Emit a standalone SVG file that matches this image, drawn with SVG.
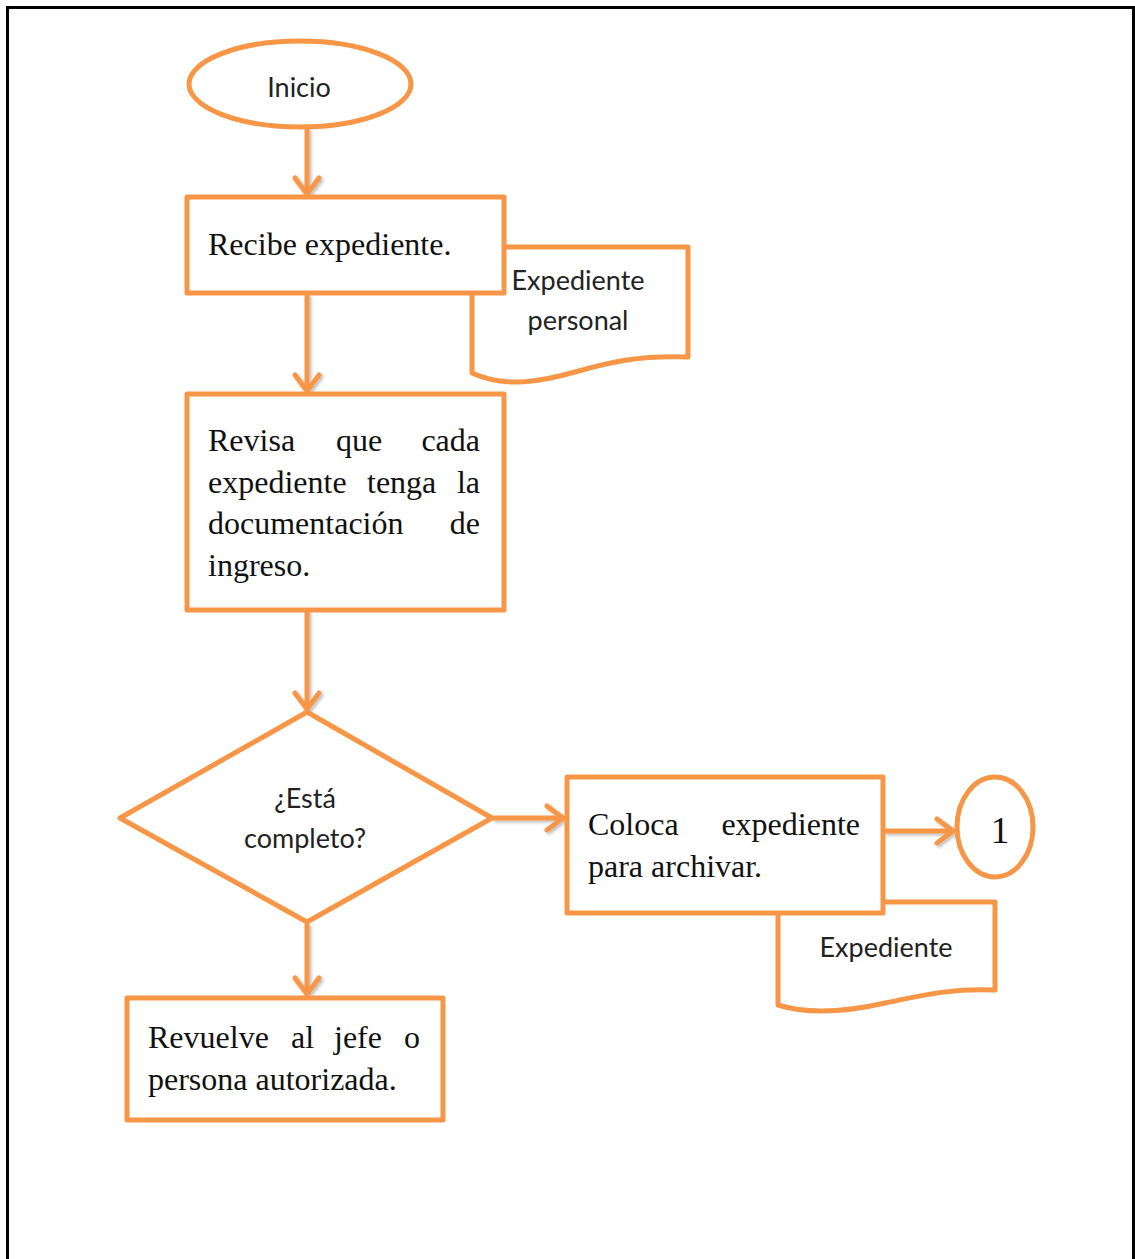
<svg xmlns="http://www.w3.org/2000/svg" width="1135" height="1259" viewBox="0 0 1135 1259">
  <style>
    .shape { fill: #FFFFFF; stroke: #F79646; stroke-width: 5; stroke-linejoin: round; }
    .conn { fill: none; stroke: #F79646; stroke-width: 5; stroke-linecap: round; }
    .serif { font-family: "Liberation Serif", "Times New Roman", serif; font-size: 32px; fill: #111111; }
    .sans { font-family: Lato, "Open Sans", "Liberation Sans", sans-serif; font-size: 27px; fill: #222222; }
    .mid { text-anchor: middle; }
    .end { text-anchor: end; }
  </style>
  <defs>
    <marker id="chevron" markerUnits="userSpaceOnUse" viewBox="-20 -15 24 30" markerWidth="24" markerHeight="30" refX="0" refY="0" orient="auto">
      <path d="M-16,-12 L0,0 L-16,12" fill="none" stroke="#F79646" stroke-width="5" stroke-linecap="round" stroke-linejoin="round"/>
    </marker>
    <filter id="soft" x="-20%" y="-20%" width="140%" height="140%">
      <feDropShadow dx="2" dy="2" stdDeviation="1.5" flood-color="#000000" flood-opacity="0.25"/>
    </filter>
  </defs>

  <!-- page frame -->
  <rect x="7.5" y="7.5" width="1126" height="1300" fill="#FFFFFF" stroke="#000000" stroke-width="3"/>

  <!-- connectors -->
  <g id="connectors" filter="url(#soft)">
    <path class="conn" d="M307,130 V194" marker-end="url(#chevron)"/>
    <path class="conn" d="M307,296 V391" marker-end="url(#chevron)"/>
    <path class="conn" d="M307,612 V709" marker-end="url(#chevron)"/>
    <path class="conn" d="M494,818 H563" marker-end="url(#chevron)"/>
    <path class="conn" d="M886,831 H953" marker-end="url(#chevron)"/>
    <path class="conn" d="M307,925 V994" marker-end="url(#chevron)"/>
  </g>

  <!-- start terminator -->
  <g id="inicio">
    <ellipse class="shape" cx="300" cy="84" rx="111" ry="43"/>
    <text class="sans mid" x="299" y="97">Inicio</text>
  </g>

  <!-- document: Expediente personal (sits behind the first process box) -->
  <g id="doc-personal">
    <path class="shape" d="M472,247 H688 V357 C640,355 610,362 575,372 C540,382 505,388 472,373 Z"/>
    <text class="sans mid" x="578" y="290">Expediente</text>
    <text class="sans mid" x="578" y="330">personal</text>
  </g>

  <g id="recibe">
    <rect class="shape" x="187" y="197" width="317" height="96"/>
    <text class="serif" x="208" y="255">Recibe expediente.</text>
  </g>

  <g id="revisa">
    <rect class="shape" x="187" y="394" width="317" height="216"/>
    <text class="serif" y="451"><tspan x="208">Revisa</tspan><tspan x="336">que</tspan><tspan x="480" text-anchor="end">cada</tspan></text>
    <text class="serif" y="493"><tspan x="208">expediente</tspan><tspan x="367">tenga</tspan><tspan x="480" text-anchor="end">la</tspan></text>
    <text class="serif" y="534"><tspan x="208">documentación</tspan><tspan x="480" text-anchor="end">de</tspan></text>
    <text class="serif" x="208" y="576">ingreso.</text>
  </g>

  <g id="completo">
    <path class="shape" d="M307,712 L492,818 L307,922 L120,818 Z"/>
    <text class="sans mid" x="305" y="808">¿Está</text>
    <text class="sans mid" x="305" y="848">completo?</text>
  </g>

  <!-- document: Expediente (sits behind the archive box) -->
  <g id="doc-expediente">
    <path class="shape" d="M778,902 H995 V990 C950,988 920,996 885,1003 C850,1011 810,1015 778,1005 Z"/>
    <text class="sans mid" x="886" y="957">Expediente</text>
  </g>

  <g id="coloca">
    <rect class="shape" x="567" y="777" width="316" height="136"/>
    <text class="serif" y="835"><tspan x="588">Coloca</tspan><tspan x="860" text-anchor="end">expediente</tspan></text>
    <text class="serif" x="588" y="877">para archivar.</text>
  </g>

  <g id="conector-1">
    <ellipse class="shape" cx="995" cy="827" rx="38" ry="50"/>
    <text class="serif mid" x="1000" y="843" style="font-size:37px">1</text>
  </g>

  <g id="revuelve">
    <rect class="shape" x="127" y="998" width="316" height="122"/>
    <text class="serif" y="1048"><tspan x="148">Revuelve</tspan><tspan x="291">al</tspan><tspan x="334">jefe</tspan><tspan x="420" text-anchor="end">o</tspan></text>
    <text class="serif" x="148" y="1090">persona autorizada.</text>
  </g>
</svg>
